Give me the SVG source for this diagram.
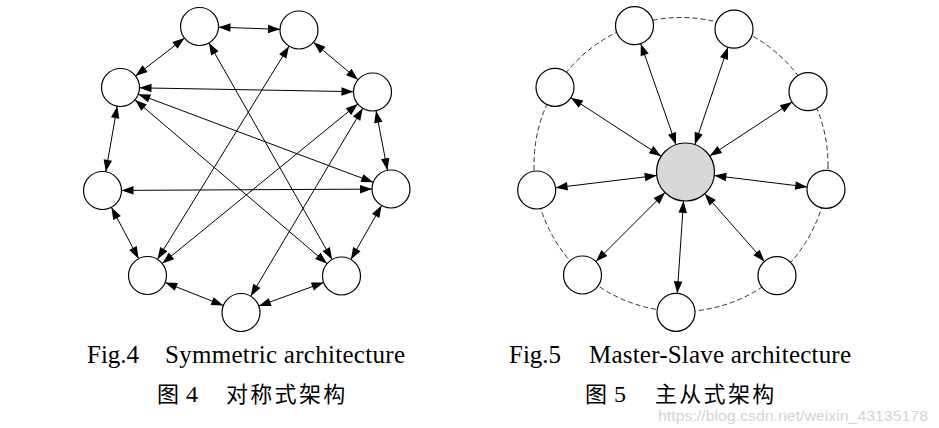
<svg xmlns="http://www.w3.org/2000/svg" width="939" height="428" viewBox="0 0 939 428">
<style>
.node{fill:#fff;stroke:#000;stroke-width:1.2}
.master{fill:#d8d8d8;stroke:#000;stroke-width:1.2}
.edge{stroke:#000;stroke-width:1;fill:none;marker-start:url(#a19);marker-end:url(#a19)}
.edgem{stroke:#000;stroke-width:1;fill:none;marker-start:url(#a29);marker-end:url(#a19)}
.ring{fill:none;stroke:#333;stroke-width:1;stroke-dasharray:5 3}
.en{font-family:"Liberation Serif","Times New Roman",serif;font-size:25px;fill:#000}
.zh{font-family:"Noto Sans CJK SC",sans-serif;font-size:22px;letter-spacing:2.3px;fill:#000}
.num{font-family:"Liberation Serif","Times New Roman",serif;font-size:24px;fill:#000}
.wm{font-family:"Liberation Sans",Arial,sans-serif;font-size:14px;fill:#d4d4d4}
</style>
<defs>
<marker id="a19" markerUnits="userSpaceOnUse" markerWidth="42" markerHeight="9" refX="31" refY="4.25" orient="auto-start-reverse" overflow="visible"><path d="M0,0 L12,4.25 L0,8.5 z" fill="#000"/></marker>
<marker id="a29" markerUnits="userSpaceOnUse" markerWidth="52" markerHeight="9" refX="41" refY="4.25" orient="auto-start-reverse" overflow="visible"><path d="M0,0 L12,4.25 L0,8.5 z" fill="#000"/></marker>
</defs>
<rect width="939" height="428" fill="#fff"/>

<g id="fig4-connectors">
<line class="edge" x1="199.5" y1="26.5" x2="299" y2="30"/>
<line class="edge" x1="299" y1="30" x2="372.5" y2="92"/>
<line class="edge" x1="372.5" y1="92" x2="391" y2="189"/>
<line class="edge" x1="391" y1="189" x2="341.5" y2="276"/>
<line class="edge" x1="341.5" y1="276" x2="241" y2="312.5"/>
<line class="edge" x1="241" y1="312.5" x2="147.5" y2="275.5"/>
<line class="edge" x1="147.5" y1="275.5" x2="102.5" y2="190.5"/>
<line class="edge" x1="102.5" y1="190.5" x2="120.5" y2="87.5"/>
<line class="edge" x1="120.5" y1="87.5" x2="199.5" y2="26.5"/>
<line class="edge" x1="120.5" y1="87.5" x2="372.5" y2="92"/>
<line class="edge" x1="120.5" y1="87.5" x2="391" y2="189"/>
<line class="edge" x1="120.5" y1="87.5" x2="341.5" y2="276"/>
<line class="edge" x1="102.5" y1="190.5" x2="391" y2="189"/>
<line class="edge" x1="199.5" y1="26.5" x2="341.5" y2="276"/>
<line class="edge" x1="299" y1="30" x2="147.5" y2="275.5"/>
<line class="edge" x1="372.5" y1="92" x2="147.5" y2="275.5"/>
<line class="edge" x1="372.5" y1="92" x2="241" y2="312.5"/>
</g>
<g id="fig4-nodes">
<g id="s1"><circle class="node" cx="199.5" cy="26.5" r="19"/></g>
<g id="s2"><circle class="node" cx="299" cy="30" r="19"/></g>
<g id="s3"><circle class="node" cx="372.5" cy="92" r="19"/></g>
<g id="s4"><circle class="node" cx="391" cy="189" r="19"/></g>
<g id="s5"><circle class="node" cx="341.5" cy="276" r="19"/></g>
<g id="s6"><circle class="node" cx="241" cy="312.5" r="19"/></g>
<g id="s7"><circle class="node" cx="147.5" cy="275.5" r="19"/></g>
<g id="s8"><circle class="node" cx="102.5" cy="190.5" r="19"/></g>
<g id="s9"><circle class="node" cx="120.5" cy="87.5" r="19"/></g>
</g>

<circle class="ring" cx="681" cy="164.5" r="147"/>
<g id="fig5-connectors">
<line class="edgem" x1="685.5" y1="172" x2="634.5" y2="25.7"/>
<line class="edgem" x1="685.5" y1="172" x2="734" y2="29.2"/>
<line class="edgem" x1="685.5" y1="172" x2="808" y2="91.7"/>
<line class="edgem" x1="685.5" y1="172" x2="826" y2="189.3"/>
<line class="edgem" x1="685.5" y1="172" x2="777" y2="275.7"/>
<line class="edgem" x1="685.5" y1="172" x2="676" y2="312.3"/>
<line class="edgem" x1="685.5" y1="172" x2="582.5" y2="275"/>
<line class="edgem" x1="685.5" y1="172" x2="536.7" y2="190"/>
<line class="edgem" x1="685.5" y1="172" x2="555" y2="87.3"/>
</g>
<g id="fig5-nodes">
<g id="master"><circle class="master" cx="685.5" cy="172" r="29"/></g>
<g id="m1"><circle class="node" cx="634.5" cy="25.7" r="19"/></g>
<g id="m2"><circle class="node" cx="734" cy="29.2" r="19"/></g>
<g id="m3"><circle class="node" cx="808" cy="91.7" r="19"/></g>
<g id="m4"><circle class="node" cx="826" cy="189.3" r="19"/></g>
<g id="m5"><circle class="node" cx="777" cy="275.7" r="19"/></g>
<g id="m6"><circle class="node" cx="676" cy="312.3" r="19"/></g>
<g id="m7"><circle class="node" cx="582.5" cy="275" r="19"/></g>
<g id="m8"><circle class="node" cx="536.7" cy="190" r="19"/></g>
<g id="m9"><circle class="node" cx="555" cy="87.3" r="19"/></g>
</g>

<g id="captions">
<text class="wm" x="658" y="421" textLength="270" lengthAdjust="spacingAndGlyphs">https://blog.csdn.net/weixin_43135178</text>
<text class="en" x="87" y="363">Fig.4</text>
<text class="en" x="165" y="363" textLength="240" lengthAdjust="spacing">Symmetric architecture</text>
<text class="zh" x="157" y="402">图</text>
<text class="num" x="186" y="402">4</text>
<text class="zh" x="226" y="402">对称式架构</text>
<text class="en" x="509" y="363">Fig.5</text>
<text class="en" x="589" y="363" textLength="262" lengthAdjust="spacing">Master-Slave architecture</text>
<text class="zh" x="585" y="402">图</text>
<text class="num" x="614" y="402">5</text>
<text class="zh" x="655" y="402">主从式架构</text>
</g>
</svg>
